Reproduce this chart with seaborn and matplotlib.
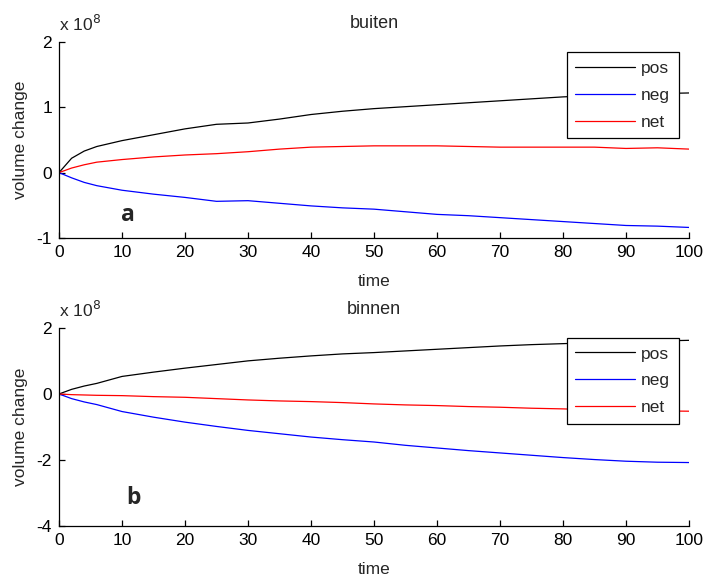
import numpy as np
import pandas as pd
import matplotlib
matplotlib.use("Agg")
import matplotlib.pyplot as plt
import seaborn as sns

# time axis and volume changes (in units of 1e8)
time = [0, 2, 4, 6, 10, 15, 20, 25, 30, 35, 40, 45, 50, 55, 60, 65, 70, 75, 80, 85, 90, 95, 100]

pos_buiten = [0, 0.22, 0.33, 0.40, 0.49, 0.58, 0.67, 0.74, 0.76, 0.82, 0.89, 0.94, 0.98,
              1.01, 1.04, 1.07, 1.10, 1.13, 1.16, 1.18, 1.20, 1.21, 1.22]
neg_buiten = [0, -0.08, -0.15, -0.20, -0.27, -0.33, -0.38, -0.44, -0.43, -0.47, -0.51, -0.54,
              -0.56, -0.60, -0.64, -0.66, -0.69, -0.72, -0.75, -0.78, -0.81, -0.82, -0.84]
net_buiten = [0, 0.07, 0.12, 0.16, 0.20, 0.24, 0.27, 0.29, 0.32, 0.36, 0.39, 0.40, 0.41,
              0.41, 0.41, 0.40, 0.39, 0.39, 0.39, 0.39, 0.37, 0.38, 0.36]

pos_binnen = [0, 0.14, 0.24, 0.32, 0.53, 0.66, 0.78, 0.89, 1.00, 1.08, 1.15, 1.21, 1.25,
              1.30, 1.35, 1.40, 1.45, 1.49, 1.52, 1.55, 1.57, 1.60, 1.62]
neg_binnen = [0, -0.14, -0.24, -0.32, -0.53, -0.70, -0.85, -0.98, -1.10, -1.20, -1.30, -1.38,
              -1.45, -1.55, -1.63, -1.71, -1.78, -1.85, -1.92, -1.98, -2.03, -2.06, -2.07]
net_binnen = [0, -0.02, -0.03, -0.04, -0.05, -0.08, -0.10, -0.14, -0.18, -0.21, -0.23, -0.26,
              -0.30, -0.33, -0.35, -0.38, -0.40, -0.43, -0.45, -0.48, -0.50, -0.51, -0.52]

series_names = ["pos", "neg", "net"]
titles = ["buiten", "binnen"]
panel_letters = ["a", "b"]
xticks = list(range(0, 101, 10))
yticks_top = [-1, 0, 1, 2]
yticks_bottom = [-4, -2, 0, 2]

sns.set_style("ticks")
plt.rcParams["font.family"] = ["Liberation Sans", "DejaVu Sans"]

palette = {"pos": "black", "neg": "blue", "net": "red"}


def long_frame(pos, neg, net):
    parts = []
    for name, vals in zip(series_names, [pos, neg, net]):
        parts.append(pd.DataFrame({"time": time, "value": vals, "series": name}))
    return pd.concat(parts, ignore_index=True)


frames = [long_frame(pos_buiten, neg_buiten, net_buiten),
          long_frame(pos_binnen, neg_binnen, net_binnen)]

fig = plt.figure(figsize=(7.05, 5.76), dpi=100)
ax_top = fig.add_axes([0.0837, 0.587, 0.8936, 0.340])
ax_bot = fig.add_axes([0.0837, 0.086, 0.8936, 0.345])
axes = [ax_top, ax_bot]
yticks_all = [yticks_top, yticks_bottom]
letter_pos = [(11.0, -0.65), (11.8, -3.15)]

for ax, df, title, yt, letter, lp in zip(axes, frames, titles, yticks_all, panel_letters, letter_pos):
    sns.lineplot(data=df, x="time", y="value", hue="series", hue_order=series_names,
                 palette=palette, linewidth=0.9, ax=ax, legend=True)
    ax.set_xlim(0, 100)
    ax.set_ylim(yt[0], yt[-1])
    ax.set_xticks(xticks)
    ax.set_yticks(yt)
    ax.set_xticklabels([str(v) for v in xticks])
    ax.set_yticklabels([str(v) for v in yt])
    for side in ["top", "right"]:
        ax.spines[side].set_visible(False)
    for side in ["left", "bottom"]:
        ax.spines[side].set_linewidth(0.9)
        ax.spines[side].set_color("black")
    ax.tick_params(direction="in", length=4.5, width=0.9, labelsize=12.5,
                   colors="black", pad=5)
    ax.set_xlabel("time", fontsize=12.5, labelpad=10)
    ax.set_ylabel("volume change", fontsize=12.5, labelpad=6)
    ax.set_title(title, fontsize=13, pad=10)
    ax.text(0, 1.04, r"x 10$^{8}$", transform=ax.transAxes, fontsize=12.5,
            ha="left", va="bottom")
    ax.text(lp[0], lp[1], letter, fontsize=16.5, fontweight="bold",
            family=["Open Sans", "DejaVu Sans"], ha="center", va="center")
    handles, labels = ax.get_legend_handles_labels()
    leg = ax.legend(handles, labels, loc="upper right", bbox_to_anchor=(0.984, 0.95),
                    fontsize=12.5, frameon=True, fancybox=False, framealpha=1,
                    edgecolor="black", handlelength=3.45, handletextpad=0.35,
                    labelspacing=0.68, borderpad=0.5, borderaxespad=0)
    leg.get_frame().set_linewidth(0.9)

fig.savefig("out.png", dpi=100, facecolor="white")
